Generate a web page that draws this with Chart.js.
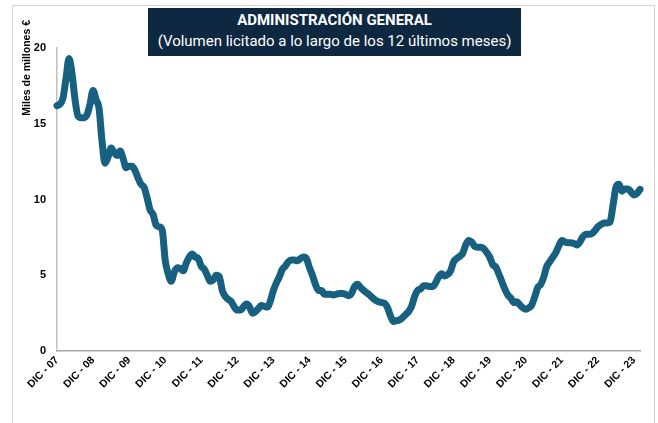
<!DOCTYPE html>
<html><head><meta charset="utf-8">
<script src="https://cdn.jsdelivr.net/npm/chart.js@4"></script>
<style>
html,body{margin:0;padding:0;background:#fff;}
#wrap{position:relative;width:658px;height:423px;overflow:hidden;background:#fff;}
#frame{position:absolute;left:12px;top:5px;width:643px;height:440px;border:1.5px solid #d4d4d4;box-sizing:border-box;}
#title{position:absolute;left:148px;top:8px;width:373px;height:48px;background:#0e2841;color:#fff;text-align:center;font-family:'Liberation Sans Narrow','Roboto',sans-serif;}
#t1{position:absolute;left:0;right:0;top:3px;font-size:15px;font-weight:bold;line-height:18px;}
#t2{position:absolute;left:0;right:0;top:24px;font-size:15px;line-height:18px;}
canvas{position:absolute;left:0;top:0;}
</style>
</head><body>
<div id="wrap">
<div id="frame"></div>
<canvas id="c" width="658" height="423"></canvas>
<div id="title"><div id="t1">ADMINISTRACIÓN GENERAL</div><div id="t2">(Volumen licitado a lo largo de los 12 últimos meses)</div></div>
</div>
<script>
const monthNames = ['ENE','FEB','MAR','ABR','MAY','JUN','JUL','AGO','SEP','OCT','NOV','DIC'];
const startYear = 7;      // DIC - 07
const yTicks = [0, 5, 10, 15, 20];
const yTitle = 'Miles de millones €';
const volumen = [
16.2,16.3,16.7,18.0,19.3,18.3,16.6,15.5,15.4,15.4,15.6,16.3,
17.2,16.6,16.0,13.8,12.4,12.8,13.4,13.1,12.9,13.2,12.7,12.1,
12.2,12.2,11.9,11.4,11.0,10.8,10.1,9.3,9.0,8.3,8.2,8.0,
6.0,5.1,4.6,5.2,5.5,5.45,5.3,5.8,6.2,6.4,6.2,6.1,
5.6,5.4,5.0,4.6,4.7,5.0,4.9,4.0,3.6,3.4,3.25,2.9,
2.7,2.7,2.9,3.1,2.95,2.5,2.6,2.8,3.0,2.95,2.9,3.3,
4.0,4.5,4.9,5.4,5.6,5.9,6.0,6.0,5.95,6.1,6.2,6.1,
5.5,5.0,4.4,4.0,4.0,3.75,3.75,3.75,3.7,3.75,3.8,3.8,
3.75,3.65,3.8,4.25,4.4,4.2,4.0,3.85,3.7,3.5,3.35,3.25,
3.2,3.15,2.85,2.3,1.95,2.0,2.05,2.2,2.4,2.6,2.95,3.6,
4.0,4.1,4.3,4.3,4.25,4.25,4.5,4.9,5.1,4.95,5.05,5.3,
5.9,6.1,6.25,6.45,7.0,7.3,7.2,6.9,6.85,6.85,6.75,6.5,
6.2,5.7,5.55,5.1,4.6,4.1,3.7,3.5,3.2,3.25,3.05,2.85,
2.75,2.85,3.05,3.6,4.2,4.4,4.9,5.6,5.9,6.2,6.5,6.95,
7.3,7.2,7.15,7.15,7.1,7.0,7.2,7.55,7.7,7.7,7.75,7.95,
8.2,8.35,8.45,8.45,8.5,9.6,10.8,11.0,10.55,10.7,10.7,10.5,
10.3,10.4,10.67
];
const categories = volumen.map((v, i) => {
  const m = (11 + i) % 12;
  const y = startYear + Math.floor((11 + i) / 12);
  return monthNames[m] + ' - ' + String(y).padStart(2, '0');
});

const yTitlePlugin = {
  id: 'yTitle',
  afterDraw(chart) {
    const ctx = chart.ctx;
    ctx.save();
    ctx.translate(27, 20);
    ctx.rotate(-Math.PI / 2);
    ctx.font = 'bold 10.5px "Liberation Sans", Arial, sans-serif';
    ctx.fillStyle = '#000';
    ctx.textAlign = 'right';
    ctx.textBaseline = 'middle';
    ctx.fillText(yTitle, 0, 0);
    ctx.restore();
  }
};

new Chart(document.getElementById('c'), {
  type: 'line',
  data: {
    labels: categories,
    datasets: [{
      data: volumen,
      borderColor: '#17607f',
      borderWidth: 7,
      pointRadius: 0,
      pointHoverRadius: 0,
      cubicInterpolationMode: 'monotone',
      borderCapStyle: 'round',
      borderJoinStyle: 'round',
      fill: false,
      clip: false
    }]
  },
  options: {
    responsive: false,
    animation: false,
    events: [],
    layout: { padding: { left: 0, top: 48, right: 18, bottom: 0 } },
    plugins: { legend: { display: false }, tooltip: { enabled: false }, title: { display: false } },
    scales: {
      x: {
        type: 'category',
        offset: false,
        grid: { display: false, drawTicks: false },
        border: { display: true, color: '#a6a6a6', width: 1.5 },
        afterBuildTicks: s => { s.ticks = s.ticks.filter(t => t.value % 12 === 0); },
        afterFit: s => { s.height = 72; },
        ticks: {
          autoSkip: false,
          minRotation: 45,
          maxRotation: 45,
          padding: 3,
          color: '#000',
          font: { family: '"Liberation Sans", Arial, sans-serif', size: 10.5, weight: 'bold' }
        }
      },
      y: {
        min: 0,
        max: 20,
        afterBuildTicks: s => { s.ticks = yTicks.map(v => ({ value: v })); },
        afterFit: s => { s.width = 57; },
        grid: { display: false, drawTicks: false },
        border: { display: true, color: '#bfbfbf', width: 1.5 },
        ticks: {
          padding: 11,
          color: '#000',
          font: { family: '"Liberation Sans", Arial, sans-serif', size: 11, weight: 'bold' }
        }
      }
    }
  },
  plugins: [yTitlePlugin]
});
</script>
</body></html>
